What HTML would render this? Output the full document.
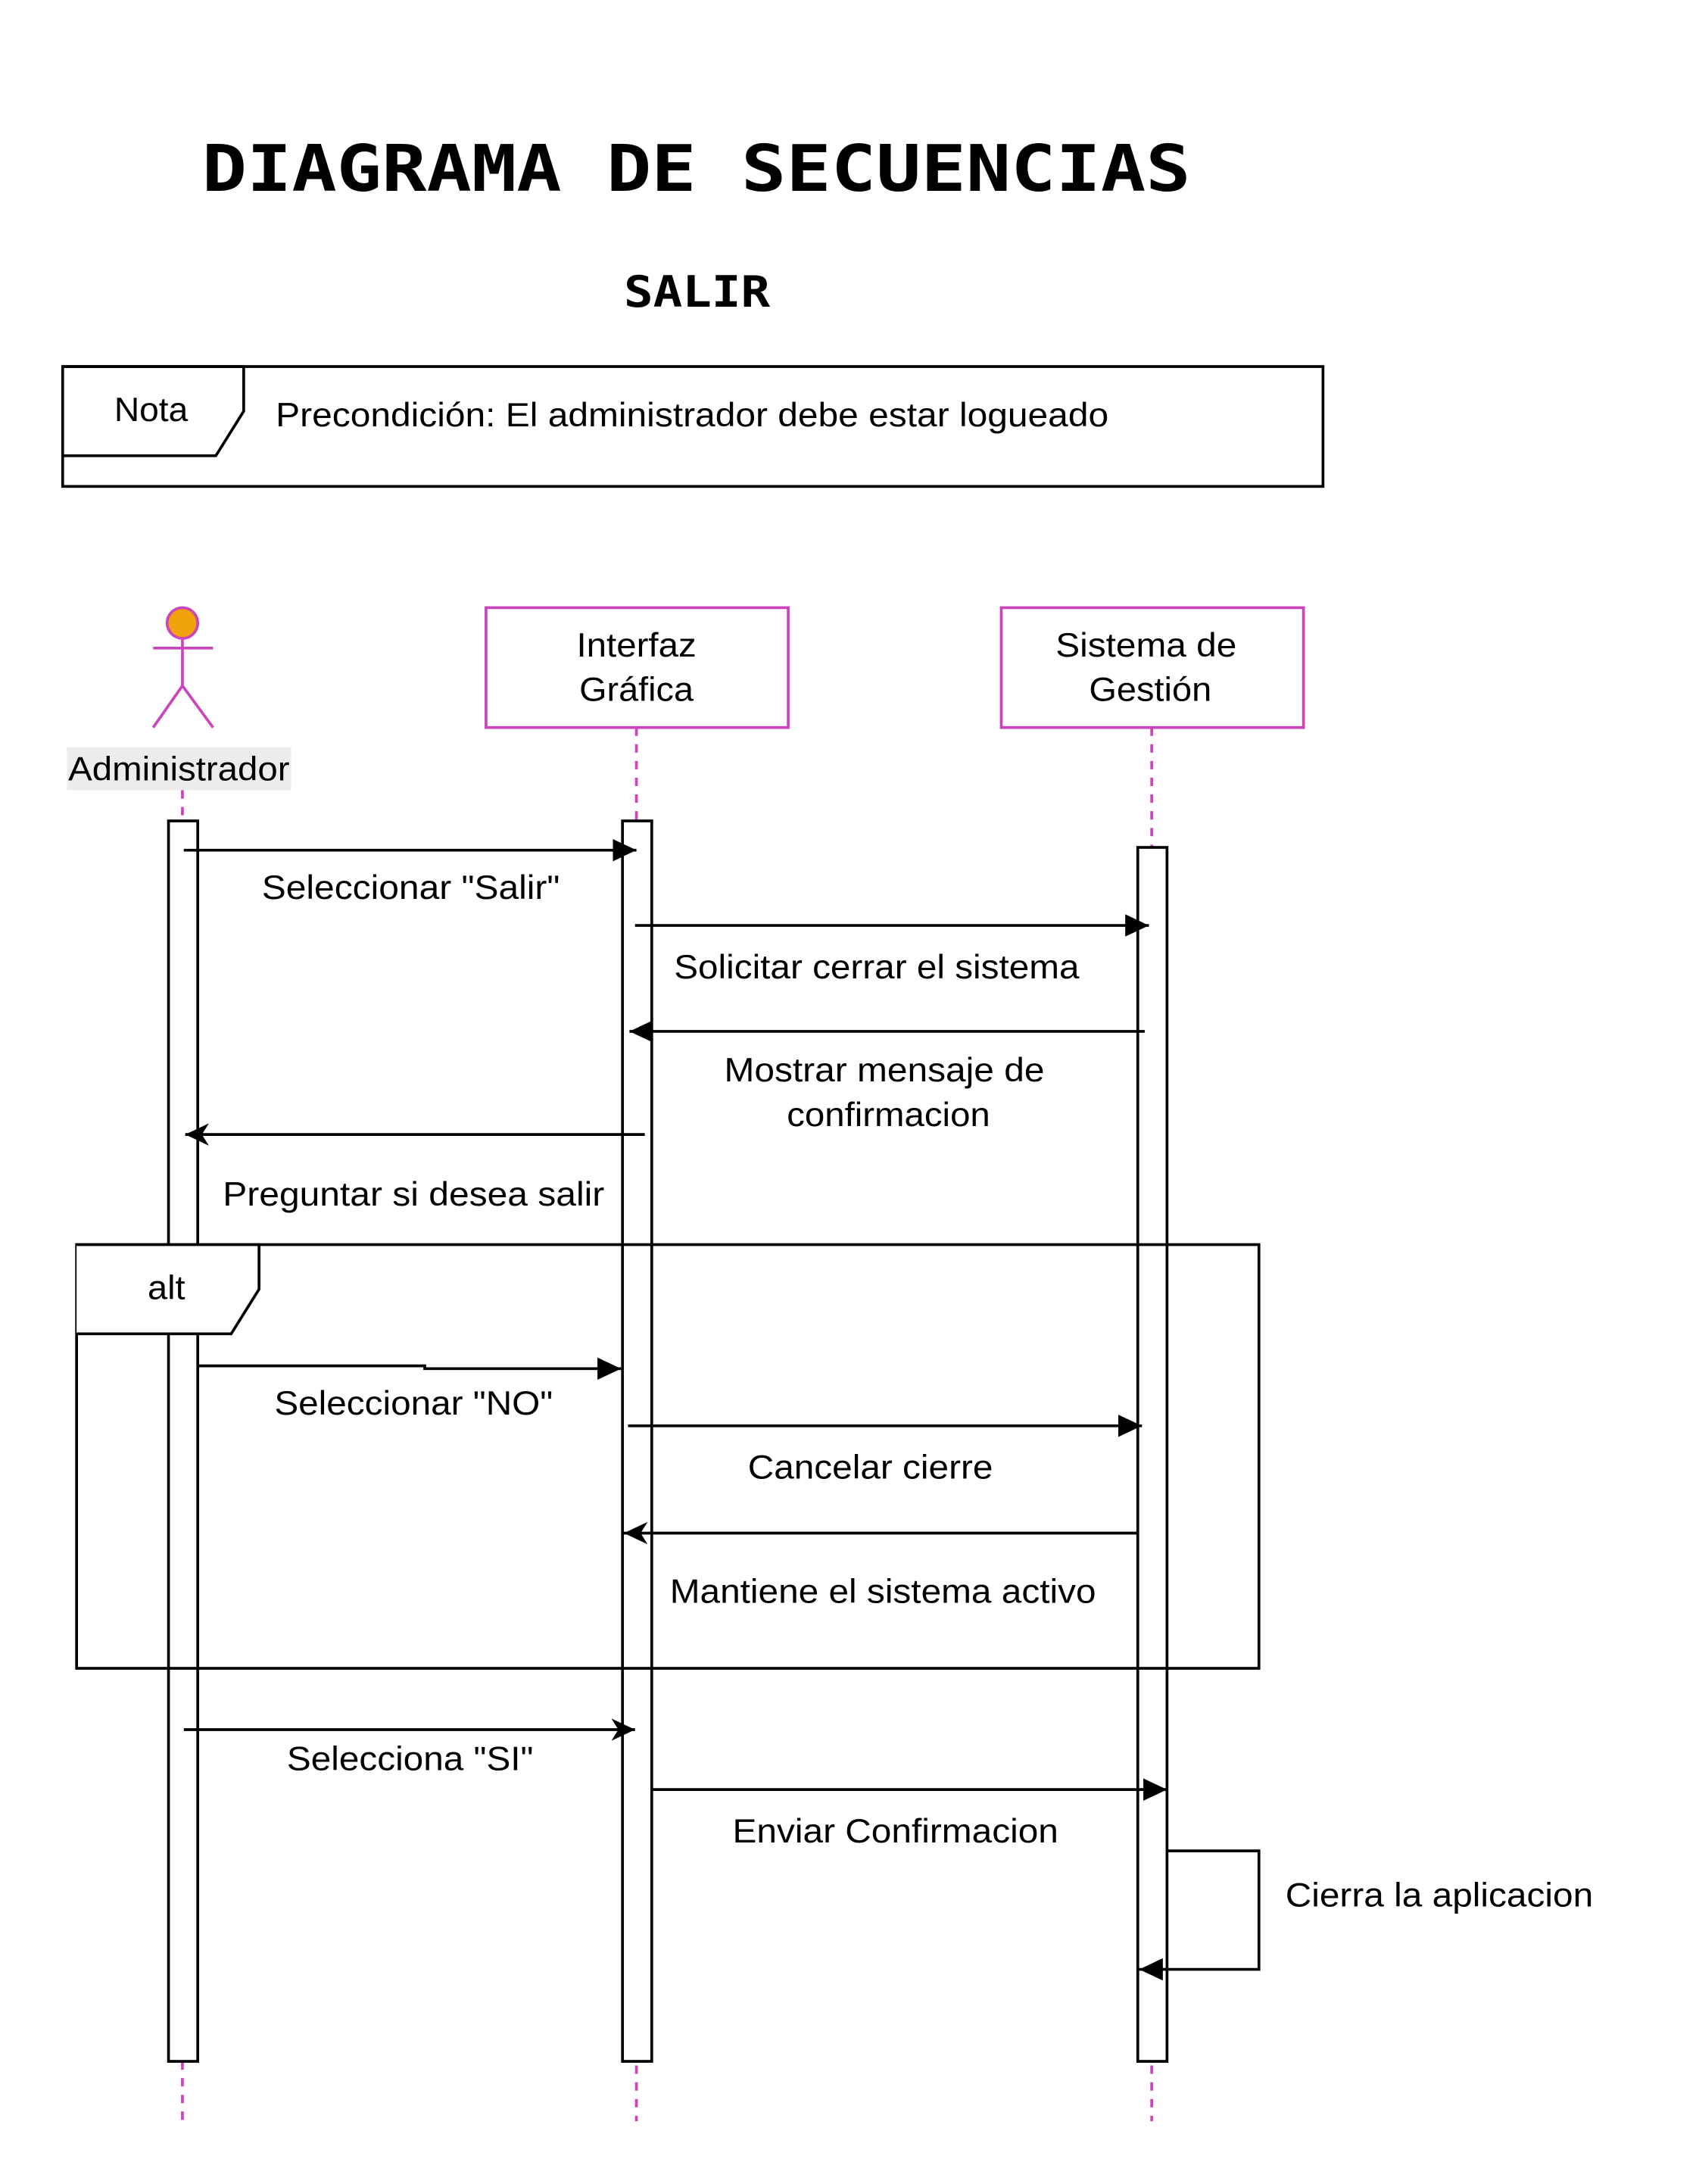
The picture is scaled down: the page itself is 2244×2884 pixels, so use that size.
<!DOCTYPE html>
<html><head><meta charset="utf-8"><style>html,body{margin:0;padding:0;background:#fff}svg{display:block}</style></head>
<body>
<svg width="2244" height="2884" viewBox="0 0 1220 1567" preserveAspectRatio="none" xmlns="http://www.w3.org/2000/svg">
<defs>
<marker id="f" markerWidth="20" markerHeight="20" refX="17" refY="8" orient="auto" markerUnits="userSpaceOnUse"><path d="M0,0 L17,8 L0,16 Z" fill="#000"/></marker>
<marker id="o" markerWidth="20" markerHeight="20" refX="17" refY="8" orient="auto" markerUnits="userSpaceOnUse"><path d="M0,0 L17,8 L0,16 L5,8 Z" fill="#000"/></marker>
</defs>
<rect width="1220" height="1567" fill="#fff"/>
<g font-family="DejaVu Sans Mono, Liberation Mono, monospace" font-weight="bold">
<text x="145" y="137" font-size="46" textLength="710" lengthAdjust="spacingAndGlyphs">DIAGRAMA DE SECUENCIAS</text>
<text x="448" y="220" font-size="31" textLength="105" lengthAdjust="spacingAndGlyphs">SALIR</text>
</g>
<g font-family="Liberation Sans, Arial, sans-serif" font-size="24" fill="#000" lengthAdjust="spacingAndGlyphs">
<rect x="45" y="263" width="905" height="86" fill="none" stroke="#000" stroke-width="2"/>
<path d="M45,263 H175 V295 L155,327 H45" fill="none" stroke="#000" stroke-width="2"/>
<text x="82" y="302" textLength="53" lengthAdjust="spacingAndGlyphs">Nota</text>
<text x="198" y="306" textLength="598" lengthAdjust="spacingAndGlyphs">Precondición: El administrador debe estar logueado</text>

<g stroke="#cc44bb" stroke-width="2" fill="none">
<circle cx="131" cy="447" r="11" fill="#f0a30a"/>
<line x1="131" y1="458" x2="131" y2="492"/>
<line x1="110" y1="465" x2="153" y2="465"/>
<path d="M110,522 L131,492 L153,522"/>
<rect x="349" y="436" width="217" height="86" fill="#fff"/>
<rect x="719" y="436" width="217" height="86" fill="#fff"/>
</g>
<rect x="48" y="536" width="161" height="31" fill="#ececec"/>
<text x="49" y="560" textLength="159" lengthAdjust="spacingAndGlyphs">Administrador</text>
<text x="414" y="471" textLength="86" lengthAdjust="spacingAndGlyphs">Interfaz</text>
<text x="416" y="503" textLength="82" lengthAdjust="spacingAndGlyphs">Gráfica</text>
<text x="758" y="471" textLength="130" lengthAdjust="spacingAndGlyphs">Sistema de</text>
<text x="782" y="503" textLength="88" lengthAdjust="spacingAndGlyphs">Gestión</text>

<g stroke="#cc44bb" stroke-width="2" stroke-dasharray="6,6">
<line x1="131" y1="567" x2="131" y2="1522"/>
<line x1="457" y1="522" x2="457" y2="1522"/>
<line x1="827" y1="522" x2="827" y2="1522"/>
</g>
<g fill="#fff" stroke="#000" stroke-width="2">
<rect x="121" y="589" width="21" height="890"/>
<rect x="447" y="589" width="21" height="890"/>
<rect x="817" y="608" width="21" height="871"/>
</g>

<g stroke="#000" stroke-width="2" fill="none">
<line x1="132" y1="610" x2="457" y2="610" marker-end="url(#f)"/>
<line x1="456" y1="664" x2="825" y2="664" marker-end="url(#f)"/>
<line x1="822" y1="740" x2="452" y2="740" marker-end="url(#f)"/>
<line x1="463" y1="814" x2="133" y2="814" marker-end="url(#o)"/>
<rect x="55" y="893" width="849" height="304"/>
<path d="M55,893 H186 V925 L166,957 H55" fill="#fff"/>
<path d="M142,980 H305 V982 H446" marker-end="url(#f)"/>
<line x1="451" y1="1023" x2="820" y2="1023" marker-end="url(#f)"/>
<line x1="817" y1="1100" x2="448" y2="1100" marker-end="url(#o)"/>
<line x1="132" y1="1241" x2="456" y2="1241" marker-end="url(#o)"/>
<line x1="468" y1="1284" x2="838" y2="1284" marker-end="url(#f)"/>
<path d="M838,1328 H904 V1413 H818" marker-end="url(#f)"/>
</g>
<text x="106" y="932" textLength="27" lengthAdjust="spacingAndGlyphs">alt</text>
<text x="188" y="645" textLength="214" lengthAdjust="spacingAndGlyphs">Seleccionar "Salir"</text>
<text x="484" y="702" textLength="291" lengthAdjust="spacingAndGlyphs">Solicitar cerrar el sistema</text>
<text x="520" y="776" textLength="230" lengthAdjust="spacingAndGlyphs">Mostrar mensaje de</text>
<text x="565" y="808" textLength="146" lengthAdjust="spacingAndGlyphs">confirmacion</text>
<text x="160" y="865" textLength="274" lengthAdjust="spacingAndGlyphs">Preguntar si desea salir</text>
<text x="197" y="1015" textLength="200" lengthAdjust="spacingAndGlyphs">Seleccionar "NO"</text>
<text x="537" y="1061" textLength="176" lengthAdjust="spacingAndGlyphs">Cancelar cierre</text>
<text x="481" y="1150" textLength="306" lengthAdjust="spacingAndGlyphs">Mantiene el sistema activo</text>
<text x="206" y="1270" textLength="177" lengthAdjust="spacingAndGlyphs">Selecciona "SI"</text>
<text x="526" y="1322" textLength="234" lengthAdjust="spacingAndGlyphs">Enviar Confirmacion</text>
<text x="923" y="1368" textLength="221" lengthAdjust="spacingAndGlyphs">Cierra la aplicacion</text>
</g>
</svg>
</body></html>
